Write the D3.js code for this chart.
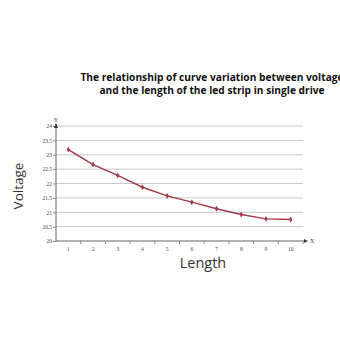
<!DOCTYPE html>
<html>
<head>
<meta charset="utf-8">
<script src="https://cdn.jsdelivr.net/npm/d3@7/dist/d3.min.js"></script>
<style>
  html, body { margin: 0; padding: 0; background: #fff; }
  svg { display: block; }
</style>
</head>
<body>
<svg id="chart" width="340" height="340"></svg>
<script>
// Strip length (segments) and measured voltage
const lengths = [1, 2, 3, 4, 5, 6, 7, 8, 9, 10];
const voltages = [23.18, 22.66, 22.28, 21.87, 21.57, 21.35, 21.12, 20.92, 20.77, 20.75];
const yTicks = [20, 20.5, 21, 21.5, 22, 22.5, 23, 23.5, 24];
const titleLines = [
  "The relationship of curve variation between voltage",
  "and the length of the led strip in single drive"
];

const svg = d3.select("#chart");
const plotLeft = 56, plotRight = 303, plotTop = 126, plotBottom = 241;

const x = d3.scaleBand().domain(lengths).range([plotLeft, plotRight]);
const y = d3.scaleLinear().domain([20, 24]).range([plotBottom, plotTop]);

// Title
svg.append("text")
  .attr("x", 212).attr("y", 81)
  .attr("text-anchor", "middle")
  .attr("font-family", "Open Sans, sans-serif")
  .attr("font-weight", "bold")
  .attr("font-size", 10.2)
  .attr("fill", "#111")
  .selectAll("tspan").data(titleLines).join("tspan")
  .attr("x", 212).attr("dy", (d, i) => i === 0 ? 0 : 13)
  .text(d => d);

// Horizontal gridlines
svg.append("g").selectAll("line").data(yTicks.filter(d => d > 20)).join("line")
  .attr("x1", plotLeft).attr("x2", plotRight)
  .attr("y1", d => y(d)).attr("y2", d => y(d))
  .attr("stroke", "#c8c8c8").attr("stroke-width", 1);

// Y axis
const yAxis = svg.append("g").attr("transform", `translate(${plotLeft},0)`)
  .call(d3.axisLeft(y).tickValues(yTicks).tickSize(3).tickFormat(d3.format("")));
yAxis.select(".domain").attr("stroke", "#666").attr("d", `M0,${plotBottom}V${plotTop - 2}`);
yAxis.selectAll(".tick line").attr("stroke", "#888");
yAxis.selectAll("text").attr("font-family", "Liberation Serif, serif").attr("font-size", 5.5).attr("fill", "#444").attr("x", -4);

// X axis
const xAxis = svg.append("g").attr("transform", `translate(0,${plotBottom})`)
  .call(d3.axisBottom(x).tickSize(0).tickPadding(6));
xAxis.select(".domain").attr("stroke", "#666").attr("d", `M${plotLeft},0H${plotRight + 1}`);
xAxis.selectAll("text").attr("font-family", "Liberation Serif, serif").attr("font-size", 5.5).attr("fill", "#444");
// boundary tick marks between categories
svg.append("g").selectAll("line").data(lengths).join("line")
  .attr("x1", d => x(d) + x.bandwidth()).attr("x2", d => x(d) + x.bandwidth())
  .attr("y1", plotBottom).attr("y2", plotBottom + 3)
  .attr("stroke", "#888");

// Axis arrows and letters
svg.append("path")
  .attr("d", `M${plotLeft - 2},${plotTop + 2}L${plotLeft},${plotTop - 3}L${plotLeft + 2},${plotTop + 2}Z`)
  .attr("fill", "#333");
svg.append("text").attr("x", plotLeft).attr("y", plotTop - 4).attr("text-anchor", "middle")
  .attr("font-family", "Liberation Serif, serif").attr("font-size", 6).attr("fill", "#333").text("Y");
svg.append("path")
  .attr("d", `M${plotRight + 1},${plotBottom - 2}L${plotRight + 5},${plotBottom}L${plotRight + 1},${plotBottom + 2}Z`)
  .attr("fill", "#333");
svg.append("text").attr("x", plotRight + 7).attr("y", plotBottom + 2)
  .attr("font-family", "Liberation Serif, serif").attr("font-size", 6).attr("fill", "#333").text("X");

// Data line
const line = d3.line().x((d, i) => x(lengths[i]) + x.bandwidth() / 2).y(d => y(d));
svg.append("path").datum(voltages)
  .attr("d", line)
  .attr("fill", "none").attr("stroke", "#a33a48").attr("stroke-width", 1.4);

svg.append("g").selectAll("path").data(voltages).join("path")
  .attr("transform", (d, i) => `translate(${x(lengths[i]) + x.bandwidth() / 2},${y(d)})`)
  .attr("d", d3.symbol(d3.symbolDiamond, 10))
  .attr("fill", "#a33a48");

// Axis titles
svg.append("text")
  .attr("transform", "translate(23,186) rotate(-90)")
  .attr("text-anchor", "middle")
  .attr("font-family", "Open Sans, sans-serif")
  .attr("font-size", 13.5).attr("fill", "#333")
  .text("Voltage");
svg.append("text")
  .attr("x", 203).attr("y", 268)
  .attr("text-anchor", "middle")
  .attr("font-family", "Open Sans, sans-serif")
  .attr("font-size", 14.5).attr("fill", "#333")
  .text("Length");
</script>
</body>
</html>
